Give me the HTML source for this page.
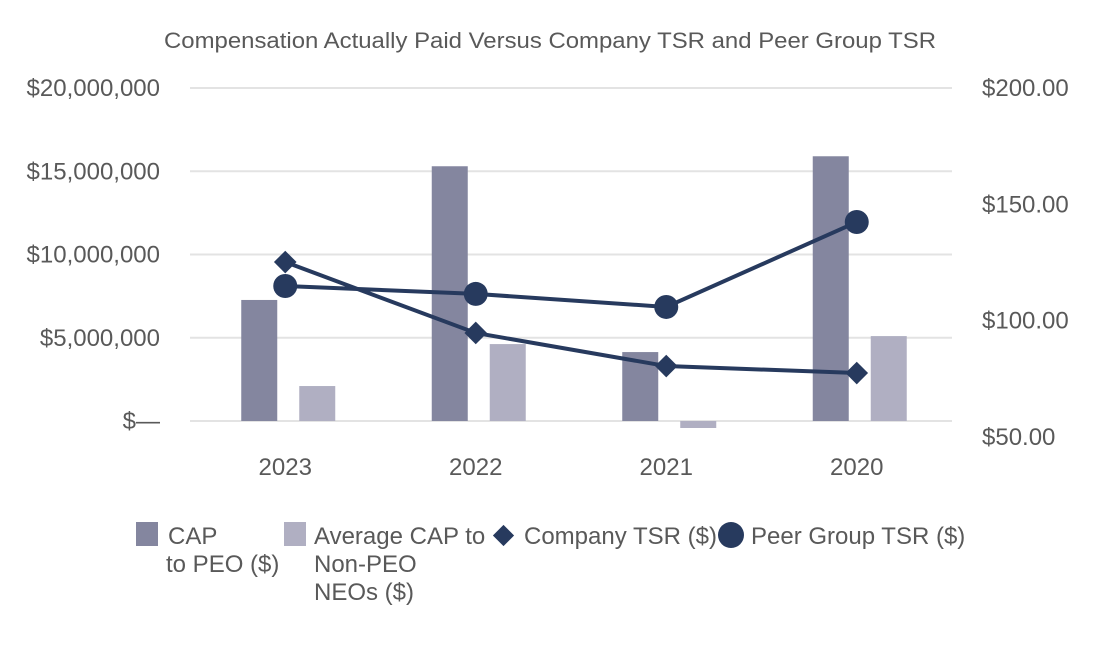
<!DOCTYPE html>
<html><head><meta charset="utf-8">
<style>
body{margin:0;background:#fff;font-family:"Liberation Sans",sans-serif;}
svg text{font-family:"Liberation Sans",sans-serif;fill:#595959;}
</style></head>
<body>
<svg id="chart" width="1100" height="650" xmlns="http://www.w3.org/2000/svg">
<text x="550" y="48" font-size="22" text-anchor="middle" textLength="772" lengthAdjust="spacingAndGlyphs">Compensation Actually Paid Versus Company TSR and Peer Group TSR</text>
<g id="grid"></g><g id="bars"></g><g id="lines"></g><g id="axes"></g>
<g>
<rect x="136" y="522" width="22" height="24" fill="#84869f"/>
<text x="168" y="544" font-size="24">CAP</text>
<text x="166" y="572" font-size="24">to PEO ($)</text>
<rect x="284" y="522" width="22" height="24" fill="#b0afc2"/>
<text x="314" y="544" font-size="24">Average CAP to</text>
<text x="314" y="572" font-size="24">Non-PEO</text>
<text x="314" y="600" font-size="24">NEOs ($)</text>
<rect x="496" y="528" width="15" height="15" fill="#273a5e" transform="rotate(45 503.5 535.5)"/>
<text x="524" y="544" font-size="24">Company TSR ($)</text>
<circle cx="731" cy="535" r="13" fill="#273a5e"/>
<text x="751" y="544" font-size="24">Peer Group TSR ($)</text>
</g>
</svg>
<script>
const categories=["2023","2022","2021","2020"];
const capPEO=[7270000,15300000,4140000,15900000];
const avgCAP=[2100000,4620000,-420000,5100000];
const companyTSR=[125.2,94.7,80.5,77.5];
const peerTSR=[114.9,111.5,105.9,142.4];
const leftTicks=[0,5000000,10000000,15000000,20000000];
const leftTickLabels=["$—","$5,000,000","$10,000,000","$15,000,000","$20,000,000"];
const rightTicks=[50,100,150,200];
const rightTickLabels=["$50.00","$100.00","$150.00","$200.00"];

const NS="http://www.w3.org/2000/svg";
const x0=190,x1=952,band=(x1-x0)/categories.length;
const xC=i=>x0+band*(i+0.5);
const yL=v=>421-v/20000000*333;
const yR=v=>437-(v-50)/150*349;
function mk(tag,attrs,parent){const e=document.createElementNS(NS,tag);for(const k in attrs)e.setAttribute(k,attrs[k]);document.getElementById(parent).appendChild(e);return e;}

leftTicks.forEach((t,i)=>{
  const g=mk("line",{x1:x0,x2:x1,y1:yL(t),y2:yL(t),stroke:"#e3e3e3","stroke-width":2},"grid");
  
  
  const l=mk("text",{x:160,y:yL(t)+8,"text-anchor":"end","font-size":24},"axes");
  l.textContent=leftTickLabels[i];
  
  
});
rightTicks.forEach((t,i)=>{
  const l=mk("text",{x:982,y:yR(t)+8,"font-size":24},"axes");
  l.textContent=rightTickLabels[i];
  
  
});
categories.forEach((c,i)=>{
  const l=mk("text",{x:xC(i),y:475,"text-anchor":"middle","font-size":24},"axes");
  l.textContent=c;
  
  
  const bw=36;
  const v1=capPEO[i],v2=avgCAP[i];
  const b1=mk("rect",{x:xC(i)-26-bw/2,y:Math.min(yL(v1),yL(0)),width:bw,height:Math.abs(yL(v1)-yL(0)),fill:"#84869f"},"bars");
  
  
  const b2=mk("rect",{x:xC(i)+32-bw/2,y:Math.min(yL(v2),yL(0)),width:bw,height:Math.abs(yL(v2)-yL(0)),fill:"#b0afc2"},"bars");
  
  
});
function series(vals,name,marker){
  const pts=vals.map((v,i)=>[xC(i),yR(v)]);
  const p=mk("polyline",{points:pts.map(p=>p.join(",")).join(" "),fill:"none",stroke:"#273a5e","stroke-width":4},"lines");
  
  
  pts.forEach((pt,i)=>{
    let m;
    if(marker==="d"){m=mk("rect",{x:pt[0]-8,y:pt[1]-8,width:16,height:16,fill:"#273a5e",transform:`rotate(45 ${pt[0]} ${pt[1]})`},"lines");}
    else{m=mk("circle",{cx:pt[0],cy:pt[1],r:12,fill:"#273a5e"},"lines");}
    
    
  });
}
series(companyTSR,"company-tsr","d");
series(peerTSR,"peer-tsr","c");
</script>
</body></html>
